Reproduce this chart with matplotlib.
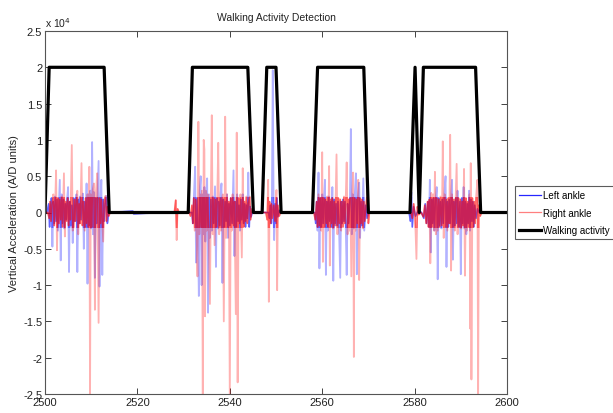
import numpy as np
import matplotlib
matplotlib.use("Agg")
import matplotlib.pyplot as plt
from matplotlib.lines import Line2D
from matplotlib.patches import Rectangle
from matplotlib.ticker import FuncFormatter, MultipleLocator

plt.rcParams['font.family'] = ['Liberation Sans', 'DejaVu Sans']

# ---- Left ankle (blue) : time (s), value (A/D units) ----
left_t = [2500.0, 2500.4, 2500.8, 2501.0, 2501.2, 2501.4, 2501.6, 2501.8, 2502.0, 2502.2, 2502.4, 2502.6, 2502.8, 2503.0,
          2503.2, 2503.4, 2503.6, 2503.8, 2504.0, 2504.2, 2504.4, 2504.6, 2504.8, 2505.0, 2505.2, 2505.4, 2505.6, 2505.8,
          2506.0, 2506.2, 2506.4, 2506.6, 2506.8, 2507.0, 2507.2, 2507.4, 2507.6, 2507.8, 2508.0, 2508.2, 2508.4, 2508.6,
          2508.8, 2509.0, 2509.2, 2509.4, 2509.6, 2509.8, 2510.0, 2510.2, 2510.4, 2510.6, 2510.8, 2511.0, 2511.2, 2511.4,
          2511.6, 2511.8, 2512.0, 2512.2, 2512.4, 2512.6, 2512.8, 2513.0, 2513.3, 2513.5, 2513.8,
          2514.0, 2519.0, 2519.2, 2525.0, 2531.6,
          2531.8, 2532.0, 2532.2, 2532.5, 2532.7, 2532.9, 2533.1, 2533.3, 2533.5, 2533.7, 2533.9, 2534.1, 2534.3, 2534.5,
          2534.7, 2534.9, 2535.1, 2535.3, 2535.5, 2535.7, 2535.9, 2536.1, 2536.3, 2536.5, 2536.8, 2537.0, 2537.2, 2537.4,
          2537.6, 2537.8, 2538.0, 2538.2, 2538.4, 2538.6, 2538.8, 2539.0, 2539.2, 2539.4, 2539.6, 2539.8, 2540.0, 2540.2,
          2540.5, 2540.8, 2541.0, 2541.2, 2541.4, 2541.6, 2541.8, 2542.0, 2542.2, 2542.4, 2542.6, 2542.8, 2543.0, 2543.2,
          2543.4, 2543.6, 2543.8, 2544.0, 2544.2, 2544.4, 2544.6, 2545.0, 2545.3,
          2548.4, 2548.6, 2548.8, 2549.0, 2549.1, 2549.3, 2549.5, 2549.6, 2549.8, 2550.0, 2550.2, 2550.4, 2550.7, 2551.0,
          2558.4, 2558.6, 2558.8, 2559.0, 2559.2, 2559.4, 2559.6, 2559.8, 2560.0, 2560.2, 2560.4, 2560.6, 2560.8, 2561.0,
          2561.2, 2561.4, 2561.6, 2561.8, 2562.0, 2562.2, 2562.4, 2562.6, 2562.8, 2563.0, 2563.2, 2563.4, 2563.6, 2563.9,
          2564.1, 2564.3, 2564.5, 2564.7, 2564.9, 2565.1, 2565.3, 2565.5, 2565.7, 2566.0, 2566.2, 2566.4, 2566.6, 2566.8,
          2567.0, 2567.3, 2567.5, 2567.7, 2568.0, 2568.2, 2568.4, 2568.6, 2568.9, 2569.1, 2569.4, 2569.7, 2570.0,
          2578.8, 2579.1, 2579.3, 2579.5, 2579.8, 2580.2, 2580.8, 2581.5, 2582.0, 2582.3, 2582.6, 2582.9, 2583.1, 2583.3,
          2583.5, 2583.7, 2583.9, 2584.1, 2584.3, 2584.5, 2584.8, 2585.0, 2585.2, 2585.4, 2585.6, 2585.8, 2586.0, 2586.2,
          2586.4, 2586.7, 2586.9, 2587.1, 2587.3, 2587.5, 2587.7, 2587.9, 2588.1, 2588.3, 2588.5, 2588.7, 2588.9, 2589.1,
          2589.3, 2589.5, 2589.8, 2590.0, 2590.2, 2590.4, 2590.6, 2590.8, 2591.0, 2591.2, 2591.4, 2591.6, 2591.8, 2592.0,
          2592.2, 2592.4, 2592.6, 2592.8, 2593.0, 2593.3, 2593.6, 2594.0, 2600.0]
left_v = [0, 0, 1200, -2000, 800, 2000, -4700, 1500, -1500, 2200, -1200, 1800, -2500, 1000,
          4500, -6600, 2500, -1500, 1800, -2200, 1200, -1000, 2000, 3500, -8200, 1500, -1800, 1000,
          -4200, 2000, -1200, 1500, 2500, -8200, 1800, -1500, 2200, -1000, 1200, 2600, -5000, 1500,
          -2000, 4000, -9800, 2500, -1800, 3000, -2200, 9700, -3000, 2800, -9000, 2000, -1500, 3000,
          7100, -10200, 1500, 4500, -8600, 1800, -1200, 1000, 2300, -1500, 0,
          0, 200, -200, 0, 0,
          0, -1500, 1800, 6300, -6900, 2000, -2500, -11500, 3000, 5000, -10000, 2500, -3000, 3500,
          -4000, 2000, 4700, -13800, 2500, -3500, 1800, -2500, 2200, -1500, 3600, -7500, 2000, -2200,
          1500, -1800, 2500, 4000, -9700, 1800, -2000, 1500, -1200, 2500, -3500, 1200, -1800, 2000,
          -1500, 5800, -6000, 1500, -2000, 2500, -1200, 1000, -2500, 1800, -1000, 2500, -1500, 1200,
          -2000, 1000, -800, 5500, -2000, 800, -600, 300, 0,
          0, -800, 1000, -1500, 600, 19600, -1000, -3800, 1200, -1500, 2000, -600, 300, 0,
          0, -1500, 1500, -2500, 5500, -7700, 2000, -2000, 2500, -1500, 1800, 4500, -8600, 1500,
          -2500, 2200, -1200, 1500, -2000, 3500, -9400, 1800, -1500, 1200, -1800, 1500, -1000, -9000,
          1500, -1500, 1800, -1200, 1500, -2000, -8600, 1200, -1500, 2000, 11500, -3000, 2500, -2200,
          1800, 5400, -8500, 2000, 4100, -3500, 1500, -1800, 4700, -2500, 1000, -800, 0,
          0, -1200, 2800, -2000, 800, -500, 300, 0, -800, 1200, -1500, 1500, -2000, 4500,
          -5500, 1800, -1500, 2000, -2500, 1500, 3500, -9200, 2000, -1800, 1500, -2200, 1800, -1500,
          2000, 5000, -7500, 1500, -2000, 1800, -1500, 2000, 4500, -6500, 1500, -1800, 2000, -1500,
          3000, -2000, 1500, -8500, 2000, -1500, 3500, -2200, 1500, -3000, 1200, -1500, 3000, -2500,
          1800, -1200, 1500, -2000, 1000, -800, 500, 0, 0]

# ---- Right ankle (red) ----
right_t = [2500.0, 2500.6, 2500.9, 2501.1, 2501.3, 2501.5, 2501.8, 2502.0, 2502.2, 2502.4, 2502.6, 2502.8, 2503.0, 2503.2,
           2503.4, 2503.6, 2503.8, 2504.1, 2504.3, 2504.5, 2504.7, 2504.9, 2505.1, 2505.3, 2505.5, 2505.8, 2506.0, 2506.2,
           2506.4, 2506.6, 2506.8, 2507.0, 2507.2, 2507.4, 2507.6, 2507.9, 2508.1, 2508.3, 2508.6, 2508.8, 2509.0, 2509.2,
           2509.4, 2509.6, 2509.75, 2509.9, 2510.1, 2510.3, 2510.6, 2510.8, 2511.0, 2511.3, 2511.6, 2511.8, 2512.0, 2512.2,
           2512.4, 2512.6, 2512.8, 2513.1, 2513.3, 2513.5, 2513.8, 2514.1,
           2528.0, 2528.3, 2528.5, 2528.7, 2529.0,
           2531.2, 2531.5, 2531.8, 2532.0, 2532.2, 2532.4, 2532.6, 2532.8, 2533.0, 2533.2, 2533.4, 2533.6, 2533.8, 2534.0,
           2534.15, 2534.35, 2534.5, 2534.65, 2534.8, 2535.0, 2535.2, 2535.4, 2535.7, 2535.9, 2536.1, 2536.3, 2536.5, 2536.7,
           2536.9, 2537.1, 2537.3, 2537.5, 2537.7, 2537.9, 2538.1, 2538.3, 2538.5, 2538.7, 2538.9, 2539.0, 2539.2, 2539.4,
           2539.6, 2539.8, 2540.0, 2540.2, 2540.4, 2540.6, 2540.8, 2541.0, 2541.3, 2541.5, 2541.7, 2541.9, 2542.1, 2542.3,
           2542.6, 2542.8, 2543.0, 2543.2, 2543.4, 2543.6, 2543.8, 2544.0, 2544.3, 2544.5, 2544.8, 2545.2,
           2547.8, 2548.1, 2548.3, 2548.45, 2548.6, 2548.8, 2549.0, 2549.2, 2549.5, 2549.8, 2550.1, 2550.25, 2550.4, 2550.7,
           2551.0,
           2558.2, 2558.5, 2558.8, 2559.0, 2559.2, 2559.4, 2559.6, 2559.8, 2560.0, 2560.15, 2560.3, 2560.5, 2560.7, 2560.9,
           2561.1, 2561.3, 2561.5, 2561.65, 2561.8, 2562.0, 2562.2, 2562.4, 2562.6, 2562.8, 2563.1, 2563.3, 2563.5, 2563.7,
           2563.9, 2564.1, 2564.3, 2564.5, 2564.7, 2564.9, 2565.1, 2565.3, 2565.5, 2565.7, 2565.9, 2566.1, 2566.3, 2566.5,
           2566.7, 2566.85, 2567.0, 2567.2, 2567.4, 2567.6, 2567.8, 2568.0, 2568.2, 2568.4, 2568.6, 2568.8, 2569.0, 2569.2,
           2569.5, 2569.8, 2570.0, 2570.2,
           2579.2, 2579.5, 2579.8, 2580.1, 2580.4, 2580.6, 2580.9, 2581.4, 2581.9, 2582.2, 2582.5, 2582.8, 2583.0, 2583.2,
           2583.4, 2583.6, 2583.8, 2584.0, 2584.2, 2584.4, 2584.6, 2584.8, 2585.0, 2585.2, 2585.4, 2585.6, 2585.9, 2586.1,
           2586.3, 2586.5, 2586.7, 2586.9, 2587.1, 2587.3, 2587.5, 2587.7, 2587.9, 2588.1, 2588.3, 2588.5, 2588.7, 2588.9,
           2589.1, 2589.3, 2589.5, 2589.7, 2589.9, 2590.1, 2590.3, 2590.5, 2590.7, 2590.9, 2591.1, 2591.3, 2591.5, 2591.7,
           2591.9, 2592.05, 2592.15, 2592.3, 2592.5, 2592.7, 2592.9, 2593.1, 2593.3, 2593.6, 2593.75, 2593.9, 2594.2, 2594.5,
           2600.0]
right_v = [0, 0, -800, 1500, -1200, 1000, 2500, -1800, 1200, 5800, -5200, 2000, -1500, 1800,
           -1000, 2200, -2000, 5400, -3300, 1500, -1200, 2000, -1800, 1500, -1000, 9300, -2500, -2000,
           1800, -1200, 1500, 3000, -3000, 1200, -1500, 6800, -1800, 1500, -2500, 2000, -1500, 2500,
           -2000, 6300, -26000, 2500, -2000, 3000, 4000, -13400, 2500, 5400, -15200, 2000, -1500, 1800,
           -1200, -4000, 1500, 2300, -1200, 800, -500, 0,
           0, 1700, -3800, 500, 0,
           0, -500, 1000, -1500, 2000, -2500, 1800, -2000, -8800, 12500, -3000, 2500, -2000, 3000,
           -26000, 10000, 8700, -14300, 3000, -2500, 2500, -2000, -12600, 2000, 13400, -3000, 2000, -4500,
           1800, -2000, 2500, 9600, -3000, 2000, -2500, 1800, 2500, -15000, 2000, 13200, -3500, 2500,
           -2000, 1500, -26000, 2000, -2500, 2500, -1800, 1500, -14000, 11000, -23400, 2000, -1500, 2500,
           -6200, 6100, -2000, 1500, -1200, 2200, -1500, 1200, 2200, -1000, 500, 0,
           0, -1000, 4500, -12300, 1500, -1500, 1200, -800, 1000, -1200, 3100, -10700, 1000, -500,
           0,
           0, -1000, 1500, -2000, 2500, -1800, 2000, -2500, 8300, -6800, 2000, -2000, 1800, -1500,
           2200, -2000, 6400, -7300, 1800, -1500, 2000, -2200, 1500, -1800, 8000, -3000, 2000, -1500,
           1800, -2500, 1500, -2000, 2200, -1500, 2000, 6900, -3000, 1800, -2500, 2000, -8800, 2500,
           5500, -19900, 2000, -2500, 1800, -1500, 4500, -9300, 2000, -1500, 1800, -2200, 1500, -1200,
           1000, 3000, -1500, 0,
           0, -800, 1200, -500, -6400, 800, -300, 0, -600, 1000, -1500, 1500, -2000, 1800,
           -7000, 2700, -2000, 2500, -2500, 5600, -3000, 2000, -2500, 1800, -2000, 2200, -1800, 9800,
           -3500, 2500, -2000, 1800, -2500, 2000, -1500, 10700, -8000, 2500, -2000, 1800, -2500, 2000,
           6700, -3000, 2000, -2000, 1800, -2200, 1500, -1800, 6000, -8700, 2000, -2500, 1500, -2000,
           2500, -16000, 6800, -23000, 2000, -2000, 1500, -1500, 2000, 4500, -26000, 1000, -500, 0,
           0]

# ---- Walking activity (detector output) ----
activity_t = [2500.0, 2500.9, 2512.8, 2513.9, 2531.0, 2531.9, 2543.9, 2545.1, 2547.0, 2548.0, 2550.0, 2551.1,
              2557.9, 2559.0, 2569.0, 2570.0, 2579.0, 2580.1, 2581.0, 2581.9, 2593.2, 2594.3, 2600.0]
activity_v = [0, 20000, 20000, 0, 0, 20000, 20000, 0, 0, 20000, 20000, 0,
              0, 20000, 20000, 0, 0, 20000, 0, 20000, 20000, 0, 0]

series_labels = ["Left ankle", "Right ankle", "Walking activity"]
title = "Walking Activity Detection"
ylabel = "Vertical Acceleration (A/D units)"

fig = plt.figure(figsize=(6.13, 4.14), dpi=100)
ax = fig.add_axes([45/613, 19/414, 462/613, 363/414])

blue = (0, 0, 1)
red = (1, 0, 0)
ax.plot(left_t, left_v, color=blue, lw=1.3, alpha=0.3)
core_b, = ax.plot(left_t, left_v, color=blue, lw=1.0, alpha=0.45)
ax.plot(right_t, right_v, color=red, lw=1.3, alpha=0.3)
core_r, = ax.plot(right_t, right_v, color=red, lw=1.0, alpha=0.5)
band = Rectangle((2500, -2200), 100, 4400, transform=ax.transData, visible=False)
ax.add_patch(band)
core_b.set_clip_path(band)
core_r.set_clip_path(band)
ax.plot(activity_t, activity_v, color='black', lw=2.3)

ax.set_xlim(2500, 2600)
ax.set_ylim(-25000, 25000)
ax.xaxis.set_major_locator(MultipleLocator(20))
ax.yaxis.set_major_locator(MultipleLocator(5000))
ax.yaxis.set_major_formatter(FuncFormatter(lambda v, p: '%g' % (v / 1e4)))
ax.tick_params(direction='in', top=True, right=True, labelsize=8, length=4, width=0.6,
               colors='#222222', pad=2)
for s in ax.spines.values():
    s.set_color('#555555')
    s.set_linewidth(0.8)

ax.set_title(title, fontsize=7.5, pad=8, color='#222222')
ax.set_ylabel(ylabel, fontsize=8, labelpad=3, color='#222222')
ax.text(0.0, 1.005, r'x 10$^{4}$', transform=ax.transAxes, fontsize=7.5, ha='left', va='bottom',
        color='#222222')

handles = [Line2D([], [], color=blue, lw=0.9, alpha=0.85),
           Line2D([], [], color=red, lw=0.9, alpha=0.5),
           Line2D([], [], color='black', lw=2.3)]
leg = fig.legend(handles, series_labels, loc='upper left', bbox_to_anchor=(515/613, 1 - 187/414),
                 fontsize=7, frameon=True, fancybox=False, edgecolor='#333333', borderpad=0.45,
                 handlelength=2.2, handletextpad=0.2, labelspacing=0.75, borderaxespad=0)
leg.get_frame().set_linewidth(0.8)

fig.savefig("out.png", dpi=100)
